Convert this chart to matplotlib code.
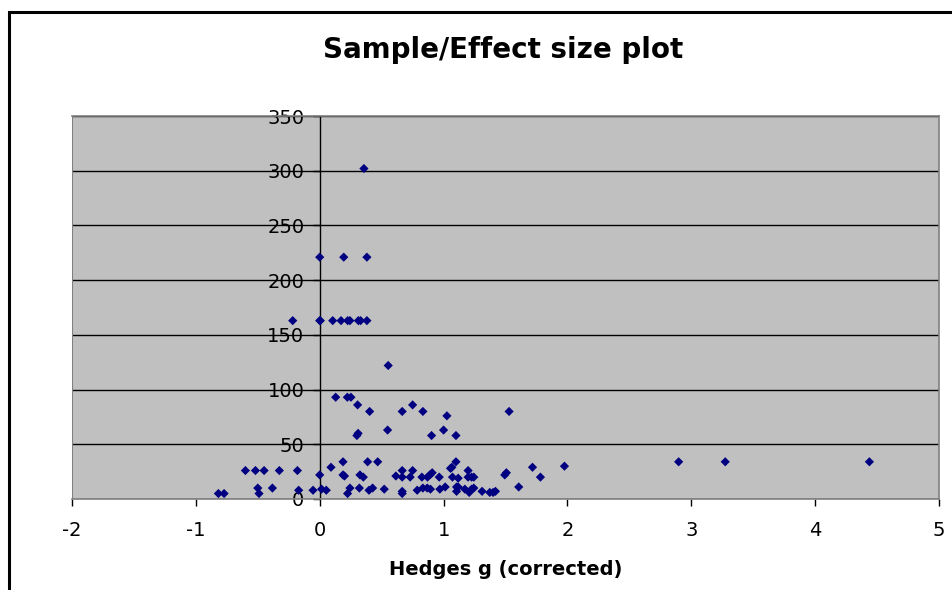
import matplotlib.pyplot as plt
from matplotlib.patches import Rectangle

plt.rcParams['axes.unicode_minus'] = False

# Hedges g (corrected) and sample size
hedges_g = [
    0.357,
    0.0, 0.194, 0.381,
    -0.218, 0.0, 0.005, 0.105, 0.172, 0.226, 0.244, 0.312, 0.33, 0.381,
    0.553,
    0.129, 0.223, 0.252,
    0.306, 0.75,
    0.403, 0.666, 0.833, 1.529,
    1.027,
    0.548, 1.0,
    0.30, 0.31, 0.903, 1.1,
    -0.818, -0.772,
    -0.6, -0.519, -0.449, -0.326, -0.18,
    -0.5, -0.49, -0.382, -0.17,
    -0.054, 0.0, 0.015, 0.053,
    0.091, 0.188, 0.188, 0.2,
    0.225, 0.244, 0.32, 0.325, 0.352,
    0.387, 0.398, 0.427, 0.468, 0.521,
    0.615, 0.666, 0.666, 0.666, 0.666,
    0.73, 0.75, 0.787, 0.825, 0.833, 0.868, 0.894,
    0.87, 0.889, 0.908, 0.965, 0.97, 1.013,
    1.056, 1.067, 1.1, 1.072, 1.118,
    1.105, 1.105, 1.118,
    1.198, 1.198, 1.226, 1.244,
    1.172, 1.207, 1.226, 1.244,
    1.311, 1.373, 1.4, 1.419,
    1.494, 1.507, 1.607, 1.718, 1.782, 1.976,
    2.898, 3.274, 4.438,
]
sample_size = [
    302,
    221, 221, 221,
    163, 163, 163, 163, 163, 163, 163, 163, 163, 163,
    122,
    93, 93, 93,
    86, 86,
    80, 80, 80, 80,
    76,
    63, 63,
    58, 60, 58, 58,
    5, 5,
    26, 26, 26, 26, 26,
    10, 5, 10, 8,
    8, 22, 9, 8,
    29, 34, 22, 21,
    5, 10, 10, 22, 20,
    34, 8, 10, 34, 9,
    21, 26, 20, 7, 5,
    20, 26, 8, 20, 10, 10, 9,
    20, 22, 24, 20, 9, 11,
    28, 29, 34, 20, 19,
    11, 7, 11,
    26, 20, 20, 20,
    9, 6, 9, 10,
    7, 6, 6, 7,
    22, 24, 11, 29, 20, 30,
    34, 34, 34,
]

x_ticks = [-2, -1, 0, 1, 2, 3, 4, 5]
y_ticks = [0, 50, 100, 150, 200, 250, 300, 350]

W, H = 952, 590
fig = plt.figure(figsize=(W / 100, H / 100), dpi=100)

# outer chart frame (runs off the right/bottom edge like the original)
fig.patches.append(Rectangle((9 / W, -0.1), 1.2, (H - 12) / H + 0.1,
                             transform=fig.transFigure, fill=False,
                             edgecolor='black', linewidth=2.2))

ax = fig.add_axes([72 / W, (H - 499) / H, (939 - 72) / W, (499 - 116) / H])
ax.set_facecolor('#C0C0C0')
ax.set_xlim(-2, 5)
ax.set_ylim(0, 350)

for s in ['top', 'right', 'bottom']:
    ax.spines[s].set_color('#808080')
    ax.spines[s].set_linewidth(1.2)
ax.spines['left'].set_position(('data', 0))
ax.spines['left'].set_color('black')
ax.spines['left'].set_linewidth(1)
ax.axvline(-2, color='#808080', lw=1.5, zorder=3)

ax.set_axisbelow(True)
ax.yaxis.grid(True, color='black', linewidth=1)

ax.scatter(hedges_g, sample_size, marker='D', s=22, color='#000080',
           edgecolors='none', zorder=4)

ax.set_xticks(x_ticks)
ax.set_yticks(y_ticks)
ax.tick_params(axis='both', direction='out', length=5, width=1,
               color='black', labelsize=14)
ax.tick_params(axis='x', pad=11)
ax.tick_params(axis='y', pad=6)

ax.set_xlabel('Hedges g (corrected)', fontsize=14, fontweight='bold', labelpad=14)
fig.text(503 / W, 1 - 50 / H, 'Sample/Effect size plot', ha='center', va='center',
         fontsize=20, fontweight='bold')

fig.savefig('out.png', dpi=100)
